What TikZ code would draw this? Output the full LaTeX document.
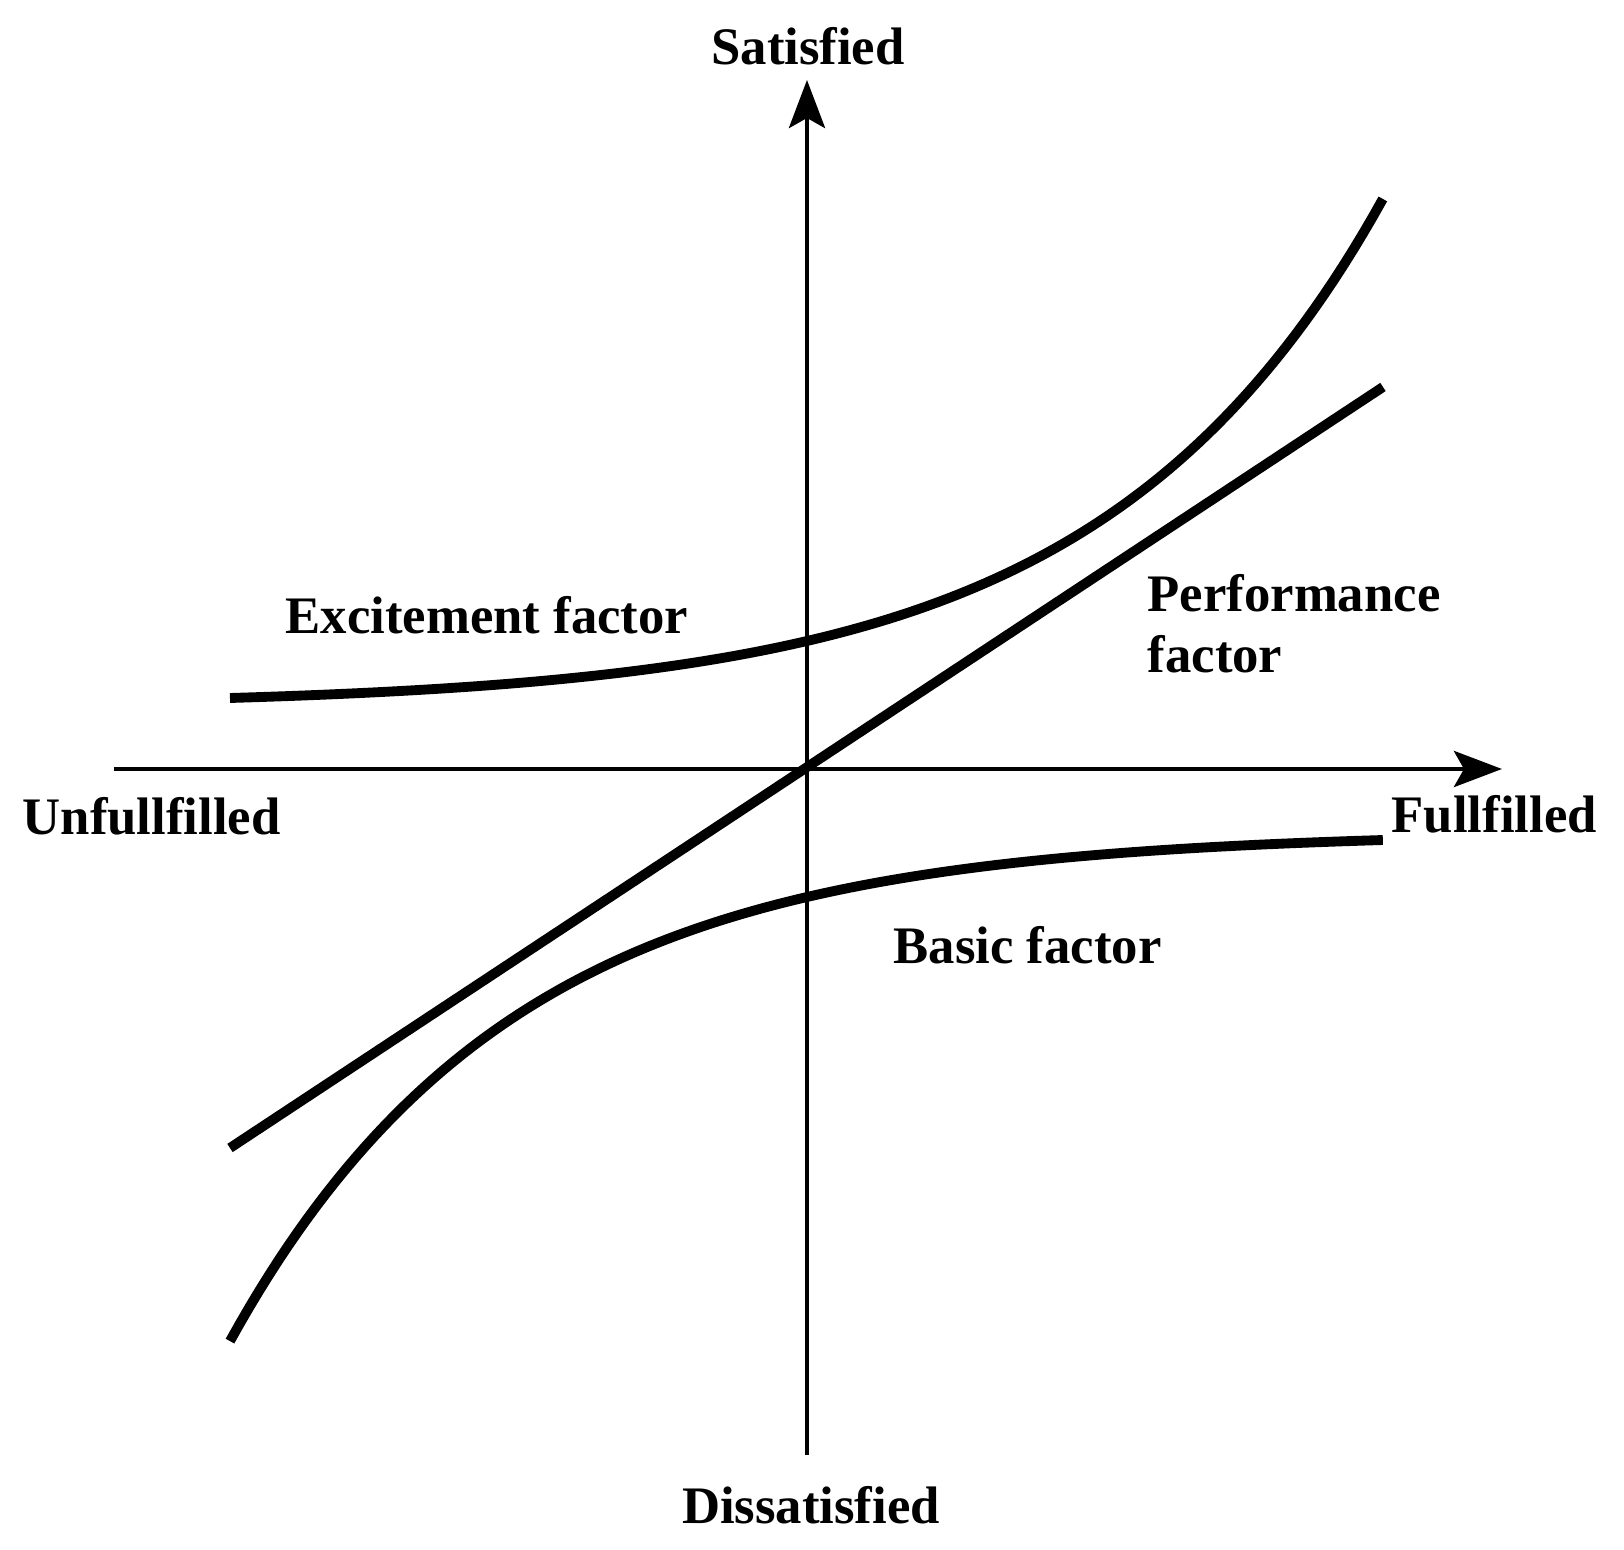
\documentclass[tikz,border=0pt]{standalone}
\usepackage{fontspec}
\setmainfont{Liberation Serif}
\usetikzlibrary{arrows.meta}

\tikzset{
	axis/.style={line width=1.4pt, -{Stealth[length=4.8mm, width=3.6mm, inset=1mm]}},
	curve/.style={line width=2.8pt, samples=120},
	lbl/.style={font=\fontsize{15pt}{17.6pt}\selectfont\bfseries, inner sep=0pt}
}

\begin{document}
\begin{tikzpicture}
		\useasboundingbox (-8.07, -7.81) rectangle (8.17, 7.69);
		
		% Оси
		\coordinate (left) at (-6.93, 0);
		\coordinate (right) at (6.95, 0);
		\coordinate (bottom) at (0, -6.86);
		\coordinate (top) at (0, 6.89);
		\draw[axis] (left) -- (right);
		\draw[axis] (bottom) -- (top);
		
		\node[lbl, anchor=base] (satisfied) at (0.01, 7.04) {Satisfied};
		\node[lbl, anchor=base] (dissatisfied) at (0.04, -7.55) {Dissatisfied};
		\node[lbl, anchor=base west] (unfulfilled) at (-7.85, -0.66) {Unfullfilled};
		\node[lbl, anchor=base west] (fulfilled) at (5.84, -0.64) {Fullfilled};
		
		% Кривые
		\draw[curve, domain=-5.77:5.76] plot (\x, {0.626+0.654*exp(0.3558*\x)});
		\draw[curve, domain=-5.77:5.76] plot (\x, {-0.626-0.654*exp(-0.3558*\x)});
		\coordinate (pstart) at (-5.77, -3.79);
		\coordinate (pend) at (5.76, 3.82);
		\draw[curve] (pstart) -- (pend);
		
		\node[lbl, anchor=base west] (excitement) at (-5.22, 1.35) {Excitement factor};
		\node[lbl, anchor=base west, align=left] (performance) at (3.40, 0.96) {Performance\\factor};
		\node[lbl, anchor=base west] (basic) at (0.86, -1.95) {Basic factor};
	\end{tikzpicture}
\end{document}
